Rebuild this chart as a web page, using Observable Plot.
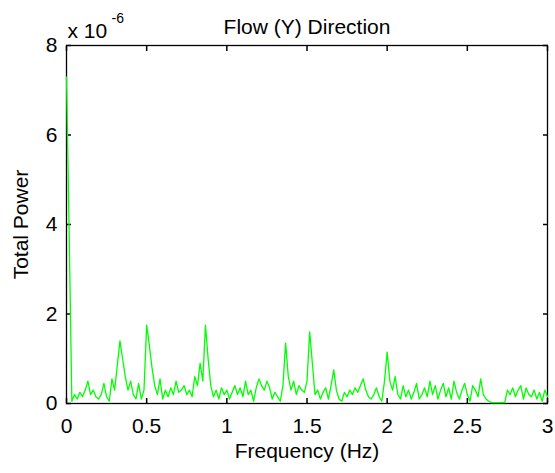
<!DOCTYPE html>
<html>
<head>
<meta charset="utf-8">
<script src="https://cdn.jsdelivr.net/npm/d3@7"></script>
<script src="https://cdn.jsdelivr.net/npm/@observablehq/plot@0.6"></script>
<style>
  html, body { margin: 0; padding: 0; background: #fff; }
  #chart svg { display: block; }
</style>
</head>
<body>
<div id="chart"></div>
<script>
// Frequency step (Hz) between spectrum samples
const freqStep = 1 / 60;
// Total power values (units of 1e-6), one per frequency bin starting at 0 Hz
const power = [
  7.3, 3.8, 0.05, 0.2, 0.1, 0.25, 0.15, 0.3, 0.5, 0.2, 0.3, 0.15, 0.1, 0.2, 0.45, 0.15, 0.05, 0.55, 0.3, 0.85,
  1.4, 1.0, 0.6, 0.3, 0.5, 0.2, 0.1, 0.45, 0.1, 0.3, 1.75, 1.3, 0.8, 0.4, 0.2, 0.55, 0.1, 0.3, 0.15, 0.35,
  0.2, 0.5, 0.25, 0.3, 0.4, 0.2, 0.3, 0.15, 0.6, 0.4, 0.9, 0.5, 1.75, 1.0, 0.4, 0.15, 0.3, 0.1, 0.35, 0.2,
  0.3, 0.1, 0.25, 0.4, 0.2, 0.35, 0.15, 0.5, 0.2, 0.3, 0.05, 0.35, 0.55, 0.4, 0.3, 0.5, 0.35, 0.1, 0.25, 0.15,
  0.05, 0.4, 1.35, 0.6, 0.3, 0.5, 0.2, 0.4, 0.3, 0.25, 0.5, 1.6, 0.9, 0.2, 0.3, 0.1, 0.25, 0.35, 0.1, 0.4,
  0.75, 0.3, 0.1, 0.05, 0.25, 0.15, 0.3, 0.2, 0.35, 0.25, 0.4, 0.55, 0.3, 0.15, 0.1, 0.2, 0.35, 0.15, 0.05, 0.5,
  1.15, 0.5, 0.3, 0.6, 0.2, 0.1, 0.4, 0.15, 0.3, 0.1, 0.25, 0.45, 0.1, 0.2, 0.35, 0.15, 0.5, 0.2, 0.4, 0.1,
  0.3, 0.45, 0.15, 0.35, 0.1, 0.5, 0.25, 0.1, 0.3, 0.45, 0.2, 0.05, 0.4, 0.3, 0.15, 0.55, 0.2, 0.1, 0.05, 0.02,
  0.02, 0.02, 0.02, 0.02, 0.02, 0.3, 0.2, 0.35, 0.15, 0.3, 0.4, 0.1, 0.35, 0.2, 0.15, 0.3, 0.1, 0.25, 0.05, 0.3, 0.15
];
const xTicks = [0, 0.5, 1, 1.5, 2, 2.5, 3];
const yTicks = [0, 2, 4, 6, 8];
const titleText = "Flow (Y) Direction";
const xLabel = "Frequency (Hz)";
const yLabel = "Total Power";
const exponentBase = "x 10";
const exponentPower = "-6";

const data = power.map((v, i) => ({f: i * freqStep, v}));
const noLabel = () => "";

const chart = Plot.plot({
  width: 555,
  height: 473,
  marginLeft: 66,
  marginRight: 8,
  marginTop: 45,
  marginBottom: 70,
  style: {fontFamily: "'Liberation Sans', Arial, sans-serif", fontSize: "21px", color: "#000", background: "#fff"},
  x: {domain: [0, 3]},
  y: {domain: [0, 8]},
  marks: [
    Plot.frame({stroke: "#000", strokeWidth: 1.3}),
    // labels
    Plot.axisX({anchor: "bottom", ticks: xTicks, tickSize: 0, tickPadding: 15, tickFormat: d => String(d),
      label: xLabel, labelAnchor: "center", labelOffset: 54, labelArrow: "none"}),
    Plot.axisY({anchor: "left", ticks: yTicks, tickSize: 0, tickPadding: 9, tickFormat: d => String(d),
      label: yLabel, labelAnchor: "center", labelOffset: 53, labelArrow: "none"}),
    // inward ticks
    Plot.axisX({anchor: "bottom", ticks: xTicks, tickSize: -5, tickFormat: noLabel, label: null, strokeWidth: 1.5}),
    Plot.axisX({anchor: "top", ticks: xTicks, tickSize: -5, tickFormat: noLabel, label: null, strokeWidth: 1.5}),
    Plot.axisY({anchor: "left", ticks: yTicks, tickSize: -5, tickFormat: noLabel, label: null, strokeWidth: 1.5}),
    Plot.axisY({anchor: "right", ticks: yTicks, tickSize: -5, tickFormat: noLabel, label: null, strokeWidth: 1.5}),
    Plot.line(data, {x: "f", y: "v", stroke: "#00ff00", strokeWidth: 1.3}),
    Plot.text([titleText], {frameAnchor: "top", text: d => d, dy: -18, lineAnchor: "middle", fontSize: 21}),
    Plot.text([exponentBase], {frameAnchor: "top-left", text: d => d, dx: 1, dy: -14, textAnchor: "start", lineAnchor: "middle", fontSize: 21}),
    Plot.text([exponentPower], {frameAnchor: "top-left", text: d => d, dx: 45, dy: -27, textAnchor: "start", lineAnchor: "middle", fontSize: 14})
  ]
});
document.getElementById("chart").appendChild(chart);
</script>
</body>
</html>
